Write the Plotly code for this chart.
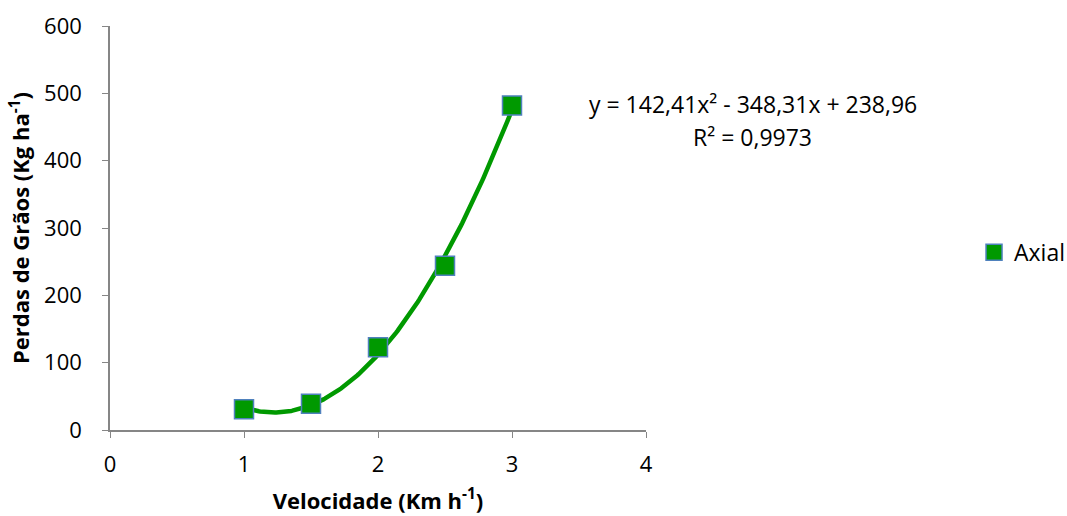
import numpy as np
import plotly.graph_objects as go

velocidade = [1, 1.5, 2, 2.5, 3]
perdas = [31, 39, 123, 244, 482]
series_name = "Axial"
coef = [142.41, -348.31, 238.96]  # trendline coefficients shown on chart
r2_text = "R² = 0,9973"
eq_text = "y = 142,41x² - 348,31x + 238,96"
x_ticks = [0, 1, 2, 3, 4]
y_ticks = [0, 100, 200, 300, 400, 500, 600]

xt = np.linspace(min(velocidade), max(velocidade), 200)
yt = np.polyval(coef, xt)

FONT = "'Open Sans', sans-serif"
GREEN = "#009900"

fig = go.Figure()
fig.add_trace(go.Scatter(x=xt, y=yt, mode="lines", line=dict(color=GREEN, width=4.5),
                         showlegend=False, hoverinfo="skip"))
fig.add_trace(go.Scatter(x=velocidade, y=perdas, mode="markers", name=series_name,
                         marker=dict(symbol="square", size=19, color=GREEN,
                                     line=dict(color="#4F81BD", width=1.5))))

fig.add_annotation(x=1.2, y=0.807, xref="paper", yref="paper", text=eq_text, showarrow=False,
                   xanchor="center", yanchor="middle", font=dict(size=23, color="black", family=FONT))
fig.add_annotation(x=1.198, y=0.725, xref="paper", yref="paper", text=r2_text, showarrow=False,
                   xanchor="center", yanchor="middle", font=dict(size=23, color="black", family=FONT))

fig.update_layout(
    width=1067, height=516,
    margin=dict(l=110, r=421, t=26, b=86, autoexpand=False),
    paper_bgcolor="white", plot_bgcolor="white",
    font=dict(family=FONT, size=21, color="black"),
    legend=dict(x=1.612, y=0.44, xanchor="left", yanchor="middle",
                font=dict(size=23, family=FONT), itemwidth=30, bgcolor="rgba(0,0,0,0)"),
    xaxis=dict(range=[0, 4], tickvals=x_ticks, showgrid=False, zeroline=False,
               showline=True, linecolor="#868686", linewidth=1.5,
               ticks="outside", ticklen=6, tickcolor="#868686", ticklabelstandoff=8,
               tickfont=dict(size=22, family=FONT),
               title=dict(text="<b>Velocidade (Km h<sup>-1</sup>)</b>", font=dict(size=22, family=FONT), standoff=16)),
    yaxis=dict(range=[0, 600], tickvals=y_ticks, showgrid=False, zeroline=False,
               showline=True, linecolor="#868686", linewidth=1.5,
               ticks="outside", ticklen=6, tickcolor="#868686", ticklabelstandoff=16,
               tickfont=dict(size=22, family=FONT),
               title=dict(text="<b>Perdas de Grãos (Kg ha<sup>-1</sup>)</b>", font=dict(size=22, family=FONT), standoff=8)),
)

fig.write_html("out.html")
